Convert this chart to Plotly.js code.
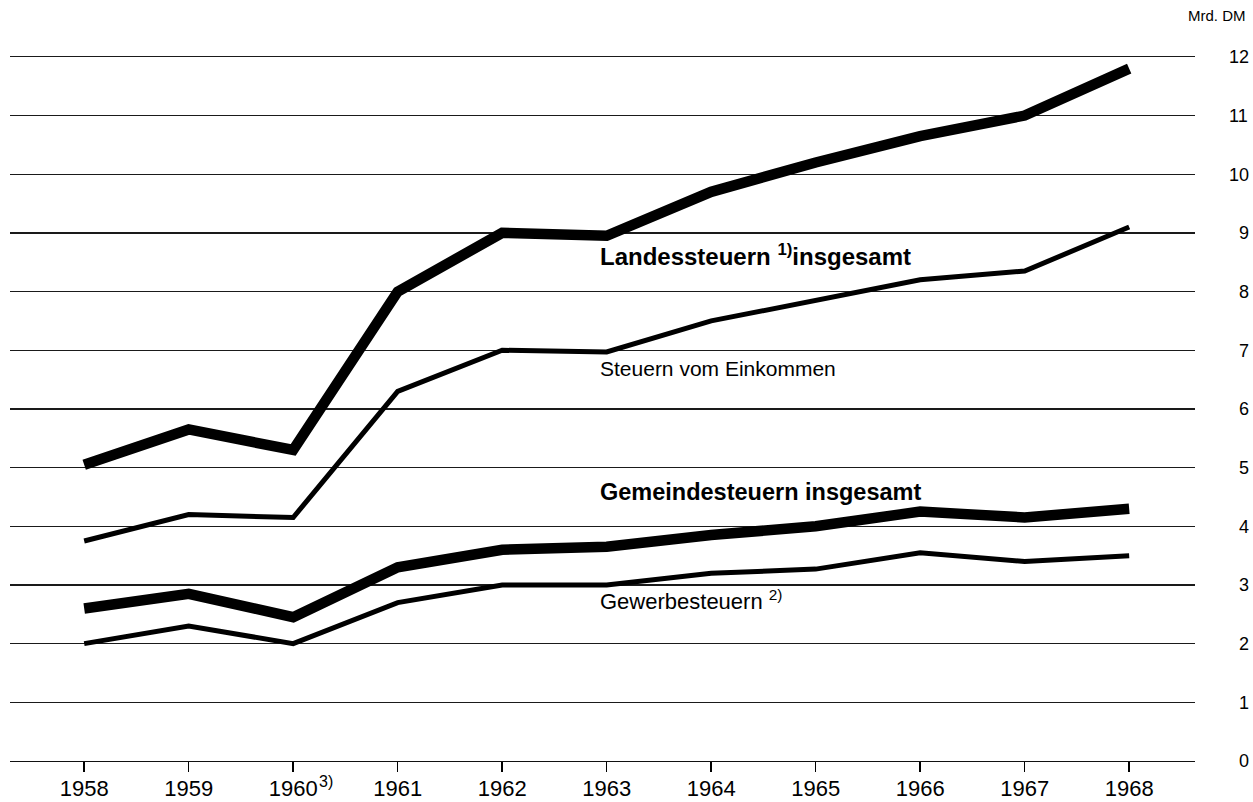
<!DOCTYPE html>
<html>
<head>
<meta charset="utf-8">
<script src="https://cdn.plot.ly/plotly-3.0.1.min.js"></script>
<style>html,body{margin:0;padding:0;background:#fff}#chart{width:1253px;height:802px}</style>
</head>
<body>
<div id="chart"></div>
<script>
var years = [1958, 1959, 1960, 1961, 1962, 1963, 1964, 1965, 1966, 1967, 1968];
var yearLabels = ["1958", "1959", "1960", "1961", "1962", "1963", "1964", "1965", "1966", "1967", "1968"];
var landessteuern = [5.05, 5.65, 5.3, 8.0, 9.0, 8.95, 9.7, 10.2, 10.65, 11.0, 11.8];
var steuernEinkommen = [3.75, 4.2, 4.15, 6.3, 7.0, 6.97, 7.5, 7.85, 8.2, 8.35, 9.1];
var gemeindesteuern = [2.6, 2.85, 2.45, 3.3, 3.6, 3.65, 3.85, 4.0, 4.25, 4.15, 4.3];
var gewerbesteuern = [2.0, 2.3, 2.0, 2.7, 3.0, 3.0, 3.2, 3.27, 3.55, 3.4, 3.5];
var yTickVals = [0,1,2,3,4,5,6,7,8,9,10,11,12];
var yTickText = ["\u20070","\u20071","\u20072","\u20073","\u20074","\u20075","\u20076","\u20077","\u20078","\u20079","10","11","12"];

var font = "Liberation Sans, Arial, Helvetica, sans-serif";

function tr(y, w) {
  return {x: years, y: y, mode: "lines", type: "scatter",
    line: {color: "#000", width: w}, hoverinfo: "skip", showlegend: false};
}
var data = [tr(gewerbesteuern, 5), tr(gemeindesteuern, 10.5), tr(steuernEinkommen, 5), tr(landessteuern, 10.5)];

var layout = {
  width: 1253, height: 802,
  margin: {l: 10, r: 58, t: 51, b: 41},
  paper_bgcolor: "#fff", plot_bgcolor: "#fff",
  font: {family: font, color: "#000"},
  showlegend: false,
  xaxis: {
    range: [1957.29, 1968.63],
    tickvals: years, ticktext: yearLabels,
    ticks: "outside", ticklen: 10, tickwidth: 1.5, tickcolor: "#000",
    showgrid: false, zeroline: false,
    showline: true, linecolor: "#111", linewidth: 1.3,
    tickfont: {size: 22, color: "#000", family: font},
    ticklabelstandoff: -3
  },
  yaxis: {
    range: [0, 12.1],
    side: "right",
    tickvals: yTickVals, ticktext: yTickText,
    ticks: "",
    showgrid: true, gridcolor: "#1a1a1a", gridwidth: 1.2,
    zeroline: false, showline: false,
    tickfont: {size: 18, color: "#000", family: font},
    ticklabelstandoff: 33
  },
  annotations: [
    {xref: "paper", yref: "paper", x: (1248-10)/1185, y: (761-15)/710, xanchor: "right", yanchor: "middle",
     text: "Mrd. DM", showarrow: false, font: {size: 15, family: font, color: "#000"}},
    {xref: "x", yref: "paper", x: 1960, y: 0, xanchor: "left", yanchor: "top", xshift: 24, yshift: -10,
     text: "3)", showarrow: false, font: {size: 16, family: font, color: "#000"}},
    {xref: "paper", yref: "paper", x: (598-10)/1185, y: (761-255)/710, xanchor: "left", yanchor: "middle",
     text: "<b>Landessteuern <sup>1)</sup>insgesamt</b>", showarrow: false, font: {size: 24, family: font, color: "#000"}},
    {xref: "paper", yref: "paper", x: (598-10)/1185, y: (761-368)/710, xanchor: "left", yanchor: "middle",
     text: "Steuern vom Einkommen", showarrow: false, font: {size: 21, family: font, color: "#000"}},
    {xref: "paper", yref: "paper", x: (598-10)/1185, y: (761-492)/710, xanchor: "left", yanchor: "middle",
     text: "<b>Gemeindesteuern insgesamt</b>", showarrow: false, font: {size: 23.5, family: font, color: "#000"}},
    {xref: "paper", yref: "paper", x: (598-10)/1185, y: (761-600)/710, xanchor: "left", yanchor: "middle",
     text: "Gewerbesteuern <sup>2)</sup>", showarrow: false, font: {size: 22, family: font, color: "#000"}}
  ]
};

Plotly.newPlot("chart", data, layout, {staticPlot: true, displayModeBar: false});
</script>
</body>
</html>
